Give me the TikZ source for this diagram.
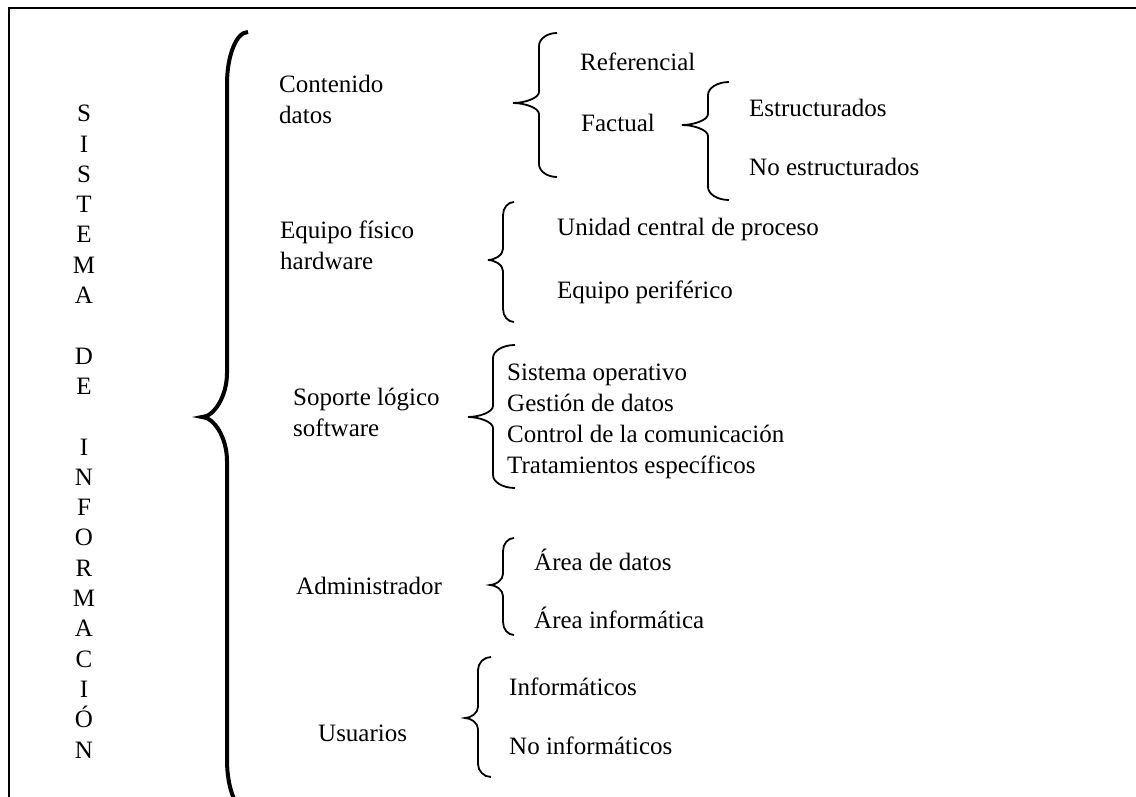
\documentclass[tikz,border=0pt]{standalone}
\usepackage{fontspec}
\setmainfont{Liberation Serif}
% #1 options, #2 end x, #3 stem x, #4 tip x, #5 top y, #6 tip y, #7 bottom y, #8 end curl, #9 tip curl
\newcommand\curlybrace[9]{%
  \draw[#1] (#2,#5)
    .. controls ({#3+0.45*(#2-#3)},#5) and (#3,{#5+0.45*#8}) .. (#3,{#5+#8})
    -- (#3,{#6-#9})
    .. controls (#3,{#6-0.45*#9}) and ({#4+0.45*(#3-#4)},#6) .. (#4,#6)
    .. controls ({#4+0.45*(#3-#4)},#6) and (#3,{#6+0.45*#9}) .. (#3,{#6+#9})
    -- (#3,{#7-#8})
    .. controls (#3,{#7-0.45*#8}) and ({#3+0.45*(#2-#3)},#7) .. (#2,#7);}
\begin{document}
\begin{tikzpicture}[x=1pt,y=-1pt,
  font=\fontsize{25}{31}\selectfont,
  % multi-line labels are placed by the baseline of their last line
  lbl/.style={anchor=base west,inner sep=0pt,align=left},
  frameline/.style={line width=2.4pt},
  bigbrace/.style={line width=4pt},
  smallbrace/.style={line width=1.8pt}]
\useasboundingbox (0,0) rectangle (1136,797);
\clip (0,0) rectangle (1136,797);
% open frame: top and left edges
\coordinate (fTL) at (9,8);
\coordinate (fTR) at (1140,8);
\coordinate (fBL) at (9,800);
\draw[frameline] (fBL) -- (fTL) -- (fTR);
% vertical title
\node[anchor=base,inner sep=0pt,align=center,font=\fontsize{25}{30.3}\selectfont]
  (vtitle) at (84,758) {S\\I\\S\\T\\E\\M\\A\\\mbox{}\\D\\E\\\mbox{}\\I\\N\\F\\O\\R\\M\\A\\C\\I\\Ó\\N};
% main brace
\curlybrace{bigbrace}{248}{227}{202}{32}{417}{812}{52}{44}
% first level
\node[lbl] (cont) at (279,124) {Contenido\\datos};
\node[lbl] (equipo) at (280,269) {Equipo físico\\hardware};
\node[lbl] (soporte) at (293,436) {Soporte lógico\\software};
\node[lbl] (admin) at (296,594) {Administrador};
\node[lbl] (usuarios) at (318,741) {Usuarios};
% contenido
\curlybrace{smallbrace}{557}{539}{513}{33}{103}{177}{13}{11}
\node[lbl] (ref) at (580,71) {Referencial};
\node[lbl] (fact) at (581,132) {Factual};
\curlybrace{smallbrace}{729}{708}{682}{82}{125}{200}{13}{11}
\node[lbl] (estr) at (749,117) {Estructurados};
\node[lbl] (noestr) at (749,176) {No estructurados};
% equipo
\curlybrace{smallbrace}{514}{503}{488}{202}{260}{322}{13}{11}
\node[lbl] (ucp) at (557,236) {Unidad central de proceso};
\node[lbl] (perif) at (557,298) {Equipo periférico};
% soporte
\curlybrace{smallbrace}{515}{493}{468}{345}{417}{488}{13}{11}
\node[lbl,font=\fontsize{25}{30.7}\selectfont] (swlist) at (507,473)
  {Sistema operativo\\Gestión de datos\\Control de la comunicación\\Tratamientos específicos};
% administrador
\curlybrace{smallbrace}{514}{503}{490}{538}{585}{635}{13}{11}
\node[lbl] (area1) at (534,570) {Área de datos};
\node[lbl] (area2) at (534,628) {Área informática};
% usuarios
\curlybrace{smallbrace}{491}{478}{465}{657}{718}{777}{13}{11}
\node[lbl] (info) at (509,695) {Informáticos};
\node[lbl] (noinfo) at (509,754) {No informáticos};
\end{tikzpicture}
\end{document}
